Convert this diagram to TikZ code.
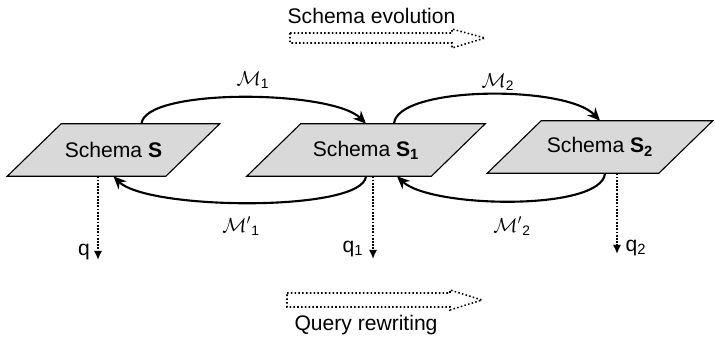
\documentclass[tikz,border=0pt]{standalone}
\usepackage{amsmath}
\usepackage{fontspec}
\setmainfont{Liberation Sans}
\usepackage{tikz}
\usetikzlibrary{arrows.meta, positioning, calc, backgrounds}
\definecolor{schemagray}{RGB}{217,217,217}

\begin{document}
\begin{tikzpicture}[
    x=0.025cm, y=-0.025cm,
    schema/.style={rectangle, minimum height=1.3cm, inner sep=0pt,
        font=\fontsize{15}{18}\selectfont},
    schemabox/.style={draw, line width=0.8pt, fill=schemagray},
    mapping/.style={-{Stealth[length=3.2mm,width=2.8mm]}, line width=1.5pt},
    query/.style={-{Latex[length=2.3mm,width=2.1mm]}, line width=1.3pt, densely dotted},
    bigarrow/.style={draw, line width=1.1pt, dash pattern=on 1.1pt off 1.6pt},
    lbl/.style={font=\fontsize{15}{18}\selectfont},
    mlbl/.style={font=\fontsize{14}{16}\selectfont}
]
\useasboundingbox (0,0) rectangle (715,337);

\node[schema, minimum width=3.95cm] (s) at (113.5,150) {Schema \textbf{S}};
\node[schema, minimum width=4.6cm] (s1) at (366,150) {Schema \textbf{S}\textsubscript{\textbf{1}}};
\node[schema, minimum width=4.275cm] (s2) at (600,147) {Schema \textbf{S}\textsubscript{\textbf{2}}};
\begin{scope}[on background layer]
\foreach \n in {s, s1, s2}
    \draw[schemabox] ($(\n.south west)+(-27,0)$) -- ($(\n.north west)+(27,0)$)
        -- ($(\n.north east)+(27,0)$) -- ($(\n.south east)+(-27,0)$) -- cycle;
\end{scope}

\node[lbl, anchor=base] (evo) at (371.5,23) {Schema evolution};
\draw[bigarrow] (290,33) -- (452,33) -- (452,29) -- (485,38) -- (452,48) -- (452,43) -- (290,43) -- cycle;
\node[lbl, anchor=base] (rew) at (366,330) {Query rewriting};
\draw[bigarrow] (287,293) -- (450,293) -- (450,290) -- (482,300) -- (450,310) -- (450,307) -- (287,307) -- cycle;

\draw[mapping] ($(s.north)+(28,0)$) .. controls +(3,-36) and +(-34,-34) .. (s1.north);
\draw[mapping] ($(s1.north)+(28,0)$) .. controls +(3,-38) and +(-34,-36) .. (s2.north);
\draw[mapping] (s1.south) .. controls +(-3,36) and +(34,34) .. (s.south);
\draw[mapping] ($(s2.south)+(5,0)$) .. controls +(-3,38) and +(34,32) .. ($(s1.south)+(31,0)$);

\node[mlbl] (m1) at (253,80) {$\mathcal{M}_{\text{1}}$};
\node[mlbl] (m2) at (498,82) {$\mathcal{M}_{\text{2}}$};
\node[mlbl] (m1b) at (241,226) {$\mathcal{M}'{}_{\text{1}}$};
\node[mlbl] (m2b) at (512,226) {$\mathcal{M}'{}_{\text{2}}$};

\coordinate (qe) at (98,260);
\coordinate (q1e) at (373,259);
\coordinate (q2e) at (617,254);
\draw[query] (s.south -| qe) -- (qe);
\draw[query] (s1.south -| q1e) -- (q1e);
\draw[query] (s2.south -| q2e) -- (q2e);
\node[lbl] (q) at (84,252) {q};
\node[lbl] (q1) at (353,249) {q\textsubscript{1}};
\node[lbl] (q2) at (636,248) {q\textsubscript{2}};
\end{tikzpicture}
\end{document}
